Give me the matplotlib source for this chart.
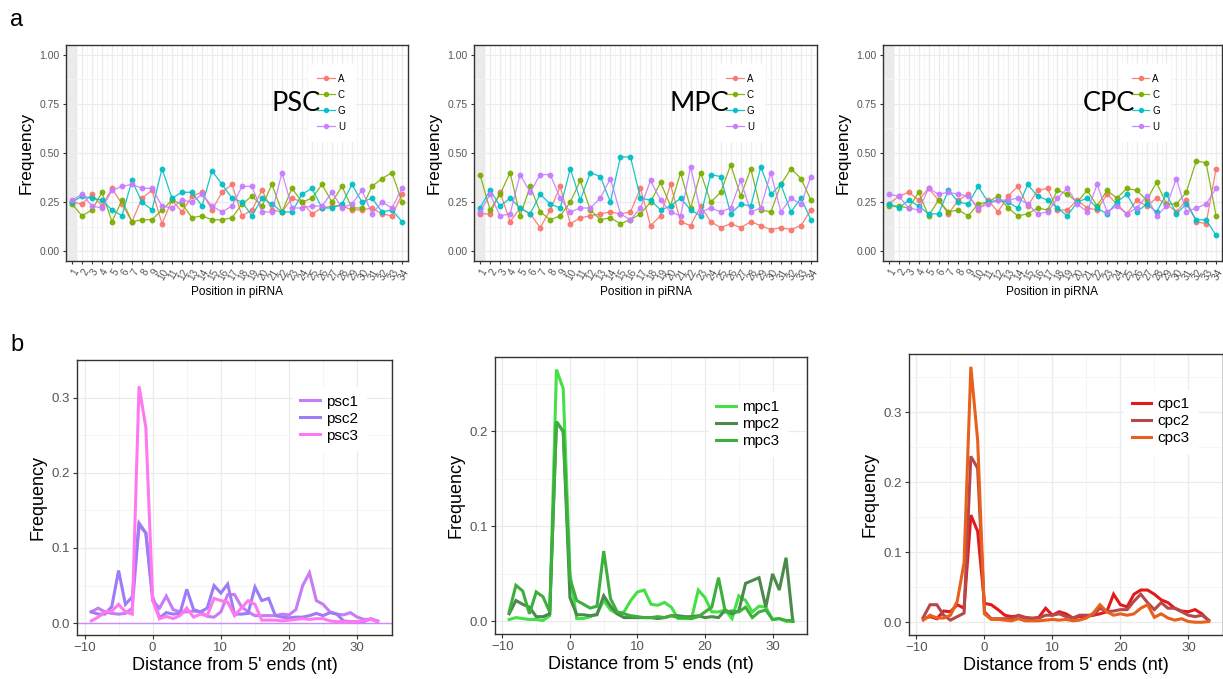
import numpy as np
import matplotlib
matplotlib.use("Agg")
import matplotlib.pyplot as plt

plt.rcParams['font.family'] = ['Liberation Sans', 'DejaVu Sans']

# ---- panel a: base composition per position ----
positions = list(range(1, 35))
bases = ['A', 'C', 'G', 'U']
base_colors = ['#F8766D', '#7CAE00', '#00BFC4', '#C77CFF']

psc_A = [0.25, 0.24, 0.29, 0.23, 0.32, 0.24, 0.15, 0.27, 0.31, 0.14, 0.26, 0.20, 0.28, 0.30, 0.21, 0.30, 0.34,
         0.18, 0.21, 0.31, 0.21, 0.20, 0.27, 0.25, 0.19, 0.22, 0.23, 0.23, 0.21, 0.21, 0.22, 0.19, 0.18, 0.29]
psc_C = [0.24, 0.18, 0.21, 0.30, 0.15, 0.26, 0.15, 0.16, 0.16, 0.21, 0.26, 0.24, 0.17, 0.18, 0.16, 0.16, 0.17,
         0.24, 0.28, 0.23, 0.34, 0.20, 0.32, 0.25, 0.27, 0.34, 0.25, 0.33, 0.22, 0.22, 0.33, 0.37, 0.40, 0.25]
psc_G = [0.25, 0.28, 0.27, 0.26, 0.21, 0.18, 0.36, 0.25, 0.21, 0.42, 0.27, 0.30, 0.30, 0.23, 0.41, 0.34, 0.27,
         0.25, 0.18, 0.27, 0.24, 0.20, 0.20, 0.29, 0.32, 0.22, 0.22, 0.24, 0.34, 0.25, 0.27, 0.20, 0.21, 0.15]
psc_U = [0.26, 0.29, 0.23, 0.22, 0.31, 0.33, 0.34, 0.32, 0.32, 0.23, 0.22, 0.26, 0.25, 0.29, 0.23, 0.20, 0.23,
         0.33, 0.33, 0.20, 0.20, 0.40, 0.22, 0.22, 0.23, 0.23, 0.30, 0.22, 0.24, 0.31, 0.19, 0.25, 0.22, 0.32]

mpc_A = [0.19, 0.19, 0.30, 0.15, 0.22, 0.19, 0.12, 0.21, 0.33, 0.14, 0.17, 0.18, 0.19, 0.20, 0.19, 0.20, 0.32,
         0.13, 0.18, 0.34, 0.15, 0.13, 0.23, 0.15, 0.12, 0.14, 0.12, 0.15, 0.13, 0.11, 0.12, 0.11, 0.13, 0.21]
mpc_C = [0.39, 0.21, 0.29, 0.40, 0.18, 0.33, 0.20, 0.16, 0.18, 0.25, 0.36, 0.21, 0.16, 0.17, 0.14, 0.16, 0.19,
         0.25, 0.35, 0.23, 0.40, 0.22, 0.40, 0.25, 0.30, 0.44, 0.28, 0.42, 0.21, 0.20, 0.34, 0.42, 0.37, 0.26]
mpc_G = [0.22, 0.31, 0.23, 0.27, 0.22, 0.19, 0.29, 0.24, 0.22, 0.42, 0.26, 0.40, 0.38, 0.25, 0.48, 0.48, 0.27,
         0.26, 0.21, 0.23, 0.27, 0.21, 0.18, 0.39, 0.38, 0.19, 0.24, 0.23, 0.43, 0.29, 0.34, 0.20, 0.27, 0.16]
mpc_U = [0.20, 0.29, 0.18, 0.19, 0.39, 0.30, 0.39, 0.39, 0.27, 0.20, 0.22, 0.22, 0.27, 0.37, 0.19, 0.16, 0.22,
         0.36, 0.26, 0.20, 0.18, 0.43, 0.20, 0.22, 0.20, 0.22, 0.36, 0.20, 0.22, 0.40, 0.20, 0.27, 0.24, 0.38]

cpc_A = [0.24, 0.28, 0.30, 0.26, 0.32, 0.26, 0.19, 0.26, 0.29, 0.21, 0.26, 0.20, 0.28, 0.33, 0.23, 0.31, 0.32,
         0.21, 0.21, 0.26, 0.22, 0.21, 0.29, 0.24, 0.19, 0.26, 0.23, 0.27, 0.24, 0.20, 0.26, 0.15, 0.14, 0.42]
cpc_C = [0.23, 0.23, 0.22, 0.30, 0.18, 0.26, 0.20, 0.21, 0.18, 0.24, 0.25, 0.28, 0.22, 0.18, 0.19, 0.22, 0.21,
         0.31, 0.29, 0.25, 0.31, 0.23, 0.31, 0.27, 0.32, 0.31, 0.26, 0.35, 0.24, 0.24, 0.30, 0.46, 0.45, 0.18]
cpc_G = [0.24, 0.22, 0.26, 0.23, 0.19, 0.19, 0.31, 0.25, 0.24, 0.33, 0.25, 0.26, 0.25, 0.22, 0.34, 0.28, 0.26,
         0.22, 0.18, 0.25, 0.27, 0.22, 0.19, 0.25, 0.29, 0.20, 0.24, 0.20, 0.29, 0.19, 0.24, 0.16, 0.16, 0.08]
cpc_U = [0.29, 0.28, 0.22, 0.21, 0.32, 0.29, 0.30, 0.29, 0.28, 0.22, 0.24, 0.26, 0.26, 0.27, 0.24, 0.19, 0.20,
         0.27, 0.32, 0.24, 0.20, 0.34, 0.20, 0.23, 0.19, 0.22, 0.28, 0.18, 0.23, 0.37, 0.20, 0.22, 0.24, 0.32]

# ---- panel b: distance from 5' ends ----
distance = list(range(-9, 34))

psc1 = [0.015, 0.020, 0.015, 0.013, 0.012, 0.013, 0.020, 0.130, 0.120, 0.030, 0.020, 0.036, 0.018, 0.015, 0.015,
        0.016, 0.015, 0.009, 0.008, 0.015, 0.038, 0.038, 0.022, 0.015, 0.010, 0.010, 0.010, 0.010, 0.012, 0.011,
        0.018, 0.050, 0.067, 0.030, 0.025, 0.015, 0.012, 0.011, 0.014, 0.008, 0.005, 0.005, 0.003]
psc2 = [0.015, 0.012, 0.012, 0.022, 0.070, 0.025, 0.035, 0.133, 0.120, 0.035, 0.007, 0.014, 0.012, 0.013, 0.045,
        0.018, 0.015, 0.020, 0.050, 0.040, 0.052, 0.012, 0.012, 0.013, 0.048, 0.030, 0.033, 0.010, 0.008, 0.007,
        0.008, 0.008, 0.010, 0.013, 0.010, 0.014, 0.012, 0.003, 0.002, 0.002, 0.002, 0.006, 0.002]
psc3 = [0.003, 0.008, 0.015, 0.016, 0.025, 0.015, 0.012, 0.315, 0.260, 0.030, 0.006, 0.009, 0.006, 0.010, 0.020,
        0.008, 0.012, 0.010, 0.033, 0.030, 0.028, 0.010, 0.020, 0.030, 0.025, 0.004, 0.004, 0.004, 0.003, 0.004,
        0.005, 0.006, 0.005, 0.006, 0.006, 0.003, 0.002, 0.002, 0.002, 0.002, 0.003, 0.005, 0.002]

mpc1 = [0.002, 0.004, 0.003, 0.002, 0.002, 0.001, 0.006, 0.265, 0.245, 0.050, 0.003, 0.003, 0.005, 0.008, 0.022,
        0.012, 0.008, 0.010, 0.022, 0.031, 0.033, 0.018, 0.017, 0.020, 0.015, 0.003, 0.003, 0.003, 0.033, 0.025,
        0.010, 0.010, 0.012, 0.003, 0.027, 0.022, 0.010, 0.016, 0.015, 0.002, 0.003, 0.000, 0.000]
mpc2 = [0.008, 0.022, 0.018, 0.015, 0.005, 0.005, 0.008, 0.210, 0.200, 0.025, 0.007, 0.007, 0.006, 0.007, 0.027,
        0.016, 0.008, 0.004, 0.004, 0.004, 0.004, 0.004, 0.003, 0.004, 0.006, 0.006, 0.005, 0.005, 0.006, 0.004,
        0.005, 0.004, 0.012, 0.008, 0.011, 0.040, 0.043, 0.046, 0.015, 0.050, 0.033, 0.067, 0.000]
mpc3 = [0.010, 0.038, 0.032, 0.008, 0.031, 0.026, 0.010, 0.210, 0.200, 0.045, 0.022, 0.018, 0.014, 0.016, 0.074,
        0.024, 0.010, 0.008, 0.006, 0.005, 0.004, 0.004, 0.005, 0.004, 0.006, 0.004, 0.004, 0.003, 0.005, 0.010,
        0.015, 0.046, 0.010, 0.011, 0.010, 0.015, 0.004, 0.010, 0.012, 0.002, 0.003, 0.001, 0.001]

cpc1 = [0.005, 0.008, 0.005, 0.016, 0.015, 0.025, 0.020, 0.153, 0.130, 0.027, 0.025, 0.018, 0.010, 0.008, 0.009,
        0.006, 0.005, 0.007, 0.020, 0.010, 0.015, 0.012, 0.006, 0.008, 0.008, 0.010, 0.012, 0.015, 0.040, 0.025,
        0.022, 0.040, 0.046, 0.046, 0.040, 0.032, 0.028, 0.020, 0.016, 0.015, 0.018, 0.012, 0.002]
cpc2 = [0.007, 0.025, 0.025, 0.010, 0.003, 0.008, 0.013, 0.237, 0.220, 0.015, 0.005, 0.005, 0.005, 0.005, 0.010,
        0.007, 0.006, 0.006, 0.010, 0.010, 0.012, 0.008, 0.006, 0.010, 0.010, 0.010, 0.020, 0.015, 0.016, 0.018,
        0.018, 0.030, 0.040, 0.028, 0.018, 0.028, 0.020, 0.020, 0.015, 0.010, 0.008, 0.010, 0.003]
cpc3 = [0.003, 0.010, 0.006, 0.006, 0.010, 0.030, 0.085, 0.365, 0.260, 0.012, 0.004, 0.004, 0.003, 0.002, 0.005,
        0.002, 0.002, 0.002, 0.003, 0.004, 0.003, 0.004, 0.002, 0.003, 0.006, 0.013, 0.025, 0.015, 0.010, 0.012,
        0.010, 0.012, 0.020, 0.025, 0.007, 0.012, 0.006, 0.003, 0.005, 0.001, 0.000, 0.000, 0.001]

W, H = 1223, 679
fig = plt.figure(figsize=(W / 100, H / 100), dpi=100)


def px_axes(x0, y0, x1, y1):
    # pixel box (top-left origin) -> figure axes
    return fig.add_axes([x0 / W, 1 - y1 / H, (x1 - x0) / W, (y1 - y0) / H])


def frame(ax):
    for s in ax.spines.values():
        s.set_color('#333333')
        s.set_linewidth(1.0)
    ax.set_axisbelow(True)
    ax.grid(which='major', color='#EBEBEB', linewidth=0.9)
    ax.grid(which='minor', color='#F4F4F4', linewidth=0.6)
    ax.tick_params(which='both', colors='#333333', labelcolor='#555555')
    ax.tick_params(which='minor', length=0)


def top_panel(box, series, title):
    ax = px_axes(*box)
    frame(ax)
    ax.axvspan(0.4, 1.5, color='#EBEBEB', zorder=0.5, lw=0)
    for name, vals, col in zip(bases, series, base_colors):
        ax.plot(positions, vals, color=col, lw=0.9, marker='o', ms=3.2, alpha=0.9, label=name)
    ax.set_xlim(0.4, 34.6)
    ax.set_ylim(-0.05, 1.05)
    ax.set_xticks(positions)
    ax.set_xticks([p + 0.5 for p in positions[:-1]], minor=True)
    ax.set_xticklabels([str(p) for p in positions], rotation=60, fontsize=7.2, ha='right',
                       rotation_mode='anchor')
    ax.set_yticks([0, 0.25, 0.5, 0.75, 1.0])
    ax.set_yticklabels(['0.00', '0.25', '0.50', '0.75', '1.00'], fontsize=7.5)
    ax.set_yticks([0.125, 0.375, 0.625, 0.875], minor=True)
    ax.tick_params(axis='both', length=2.5, pad=2)
    ax.set_xlabel('Position in piRNA', fontsize=8.5, labelpad=3)
    ax.set_ylabel('Frequency', fontsize=12.5, labelpad=4)
    leg = ax.legend(loc='upper right', bbox_to_anchor=(0.86, 0.935), fontsize=7, frameon=True,
                    handlelength=1.8, handletextpad=0.3, labelspacing=0.62, borderpad=1.0, markerscale=0.9)
    leg.get_frame().set_edgecolor('white')
    leg.get_frame().set_alpha(1)
    leg.get_frame().set_boxstyle('square', pad=0)
    ax.text(0.745, 0.73, title, transform=ax.transAxes, ha='right', va='center',
            fontsize=19.5, family='Lato', zorder=10)
    return ax


def bottom_panel(box, series, labels, colors, yticks, ymax, legend_anchor):
    ax = px_axes(*box)
    frame(ax)
    for vals, lab, col in zip(series, labels, colors):
        ax.plot(distance, vals, color=col, lw=2.2, label=lab, solid_joinstyle='miter')
    ax.set_xlim(-11.1, 35.1)
    ax.set_ylim(-0.05 * ymax, 1.05 * ymax)
    ax.set_xticks([-10, 0, 10, 20, 30])
    ax.set_xticklabels(['\u221210', '0', '10', '20', '30'], fontsize=9.5)
    ax.set_xticks([-5, 5, 15, 25, 35], minor=True)
    ax.set_yticks(yticks)
    ax.set_yticklabels(['%.1f' % t for t in yticks], fontsize=9.5)
    ax.set_yticks([t + 0.05 for t in yticks], minor=True)
    ax.tick_params(axis='both', length=3, pad=2)
    ax.set_xlabel("Distance from 5' ends (nt)", fontsize=13, labelpad=2)
    ax.set_ylabel('Frequency', fontsize=13, labelpad=4)
    leg = ax.legend(loc='upper left', bbox_to_anchor=legend_anchor, fontsize=11, frameon=True,
                    handlelength=1.3, handletextpad=0.4, labelspacing=0.2, borderpad=0.5)
    leg.get_frame().set_edgecolor('white')
    leg.get_frame().set_alpha(1)
    leg.get_frame().set_boxstyle('square', pad=0)
    return ax


top_panel((66, 45, 408, 261), [psc_A, psc_C, psc_G, psc_U], 'PSC')
top_panel((474, 45, 817, 261), [mpc_A, mpc_C, mpc_G, mpc_U], 'MPC')
top_panel((883, 45, 1222, 261), [cpc_A, cpc_C, cpc_G, cpc_U], 'CPC')

ax1 = bottom_panel((77, 360, 392, 635), [psc1, psc2, psc3], ['psc1', 'psc2', 'psc3'],
                   ['#C77CF5', '#9E7BF7', '#FF78F0'], [0.0, 0.1, 0.2, 0.3], 0.315, (0.66, 0.93))
ax1.axhline(0, color='#C98BFF', lw=1.0, zorder=1)
bottom_panel((495, 357, 807, 634), [mpc1, mpc2, mpc3], ['mpc1', 'mpc2', 'mpc3'],
             ['#45E045', '#4A8A4A', '#3DAF3D'], [0.0, 0.1, 0.2], 0.265, (0.66, 0.9))
bottom_panel((909, 354, 1223, 635), [cpc1, cpc2, cpc3], ['cpc1', 'cpc2', 'cpc3'],
             ['#E31A1C', '#B5484A', '#E8601C'], [0.0, 0.1, 0.2, 0.3], 0.365, (0.66, 0.9))

fig.text(10 / W, 1 - 20 / H, 'a', fontsize=17, va='center', ha='left')
fig.text(10 / W, 1 - 345 / H, 'b', fontsize=17, va='center', ha='left')

fig.savefig('out.png', dpi=100, facecolor='white')
